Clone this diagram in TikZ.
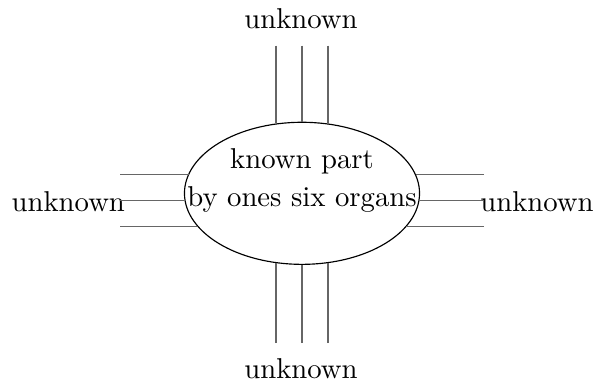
\documentclass[tikz,border=0pt]{standalone}
\usetikzlibrary{shapes.geometric}
\begin{document}
\begin{tikzpicture}[x=0.3484pt, y=-0.3484pt, thin]
  % Define styles
  \tikzstyle{sense} = [ellipse, draw, minimum width=81.9pt, minimum height=49.5pt, inner sep=0pt]
  \tikzstyle{word} = [anchor=base, inner sep=0pt, font=\normalsize]
  \tikzstyle{stroke} = [line width=0.35pt, black!60]

  \useasboundingbox (0,0) rectangle (594,384);

  % Known part
  \node[sense] (known) at (302, 193.3) {};
  \node[align=center, inner sep=0pt] (knowntext) at (302, 180.3) {known part\\[1.4pt]by ones six organs};

  % Unknown labels
  \node[word] (utop) at (301, 28.3) {unknown};
  \node[word] (ubottom) at (301, 378) {unknown};
  \node[word] (uleft) at (68.3, 211.7) {unknown};
  \node[word] (uright) at (537, 211.7) {unknown};

  % Free ends of the strokes
  \coordinate (t1) at (276, 45.7);
  \coordinate (t2) at (302, 45.7);
  \coordinate (t3) at (328, 45.7);
  \coordinate (b1) at (276, 343);
  \coordinate (b2) at (302, 343);
  \coordinate (b3) at (328, 343);
  \coordinate (l1) at (120, 174.5);
  \coordinate (l2) at (120, 200.5);
  \coordinate (l3) at (120, 226.5);
  \coordinate (r1) at (484, 174.5);
  \coordinate (r2) at (484, 200.5);
  \coordinate (r3) at (484, 226.5);

  % Strokes: top
  \draw[stroke] (t1) -- (t1 |- known.110.6);
  \draw[stroke] (t2) -- (t2 |- known.90);
  \draw[stroke] (t3) -- (t3 |- known.69.4);

  % Strokes: bottom
  \draw[stroke] (b1) -- (b1 |- known.249.4);
  \draw[stroke] (b2) -- (b2 |- known.270);
  \draw[stroke] (b3) -- (b3 |- known.290.6);

  % Strokes: left
  \draw[stroke] (l1) -- (l1 -| known.170.5);
  \draw[stroke] (l2) -- (l2 -| known.183.5);
  \draw[stroke] (l3) -- (l3 -| known.197.8);

  % Strokes: right
  \draw[stroke] (r1) -- (r1 -| known.9.5);
  \draw[stroke] (r2) -- (r2 -| known.356.5);
  \draw[stroke] (r3) -- (r3 -| known.342.2);

\end{tikzpicture}
\end{document}
